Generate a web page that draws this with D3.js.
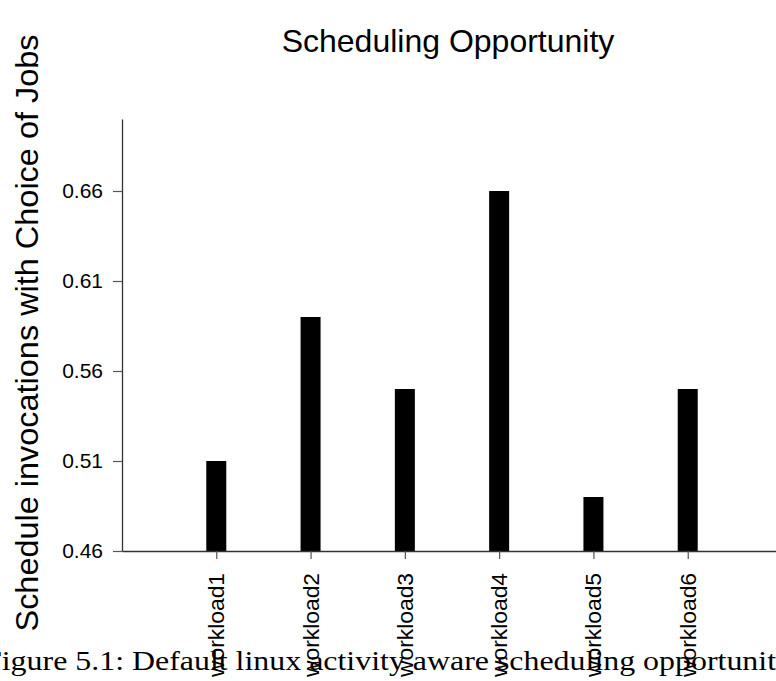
<!DOCTYPE html>
<html>
<head>
<meta charset="utf-8">
<script src="https://cdn.jsdelivr.net/npm/d3@7"></script>
<style>
  body { margin: 0; background: #fff; }
  svg { display: block; }
  text { font-family: "Liberation Sans", Arial, Helvetica, sans-serif; }
</style>
</head>
<body>
<div id="chart"></div>
<script>
// data
const workloads = ['workload1', 'workload2', 'workload3', 'workload4', 'workload5', 'workload6'];
const opportunity = [0.51, 0.59, 0.55, 0.66, 0.49, 0.55];
const yTicks = [0.46, 0.51, 0.56, 0.61, 0.66];

const width = 776;
const height = 681;
const plotLeft = 122, plotRight = 782, plotTop = 119, plotBottom = 551;
const barWidth = 20;

const svg = d3.select('#chart')
    .append('svg')
    .attr('width', width)
    .attr('height', height);

const x = d3.scalePoint()
    .domain(workloads)
    .range([plotLeft, plotRight])
    .padding(1);

const y = d3.scaleLinear()
    .domain([0.46, 0.70])
    .range([plotBottom, plotTop]);

// bars
svg.selectAll('rect.bar')
    .data(workloads)
    .enter()
    .append('rect')
    .attr('class', 'bar')
    .attr('x', d => x(d) - barWidth / 2)
    .attr('width', barWidth)
    .attr('y', (d, i) => y(opportunity[i]))
    .attr('height', (d, i) => y(0.46) - y(opportunity[i]))
    .attr('fill', '#000');

// y axis
const yAxis = svg.append('g')
    .attr('transform', `translate(${plotLeft},0)`)
    .call(d3.axisLeft(y)
        .tickValues(yTicks)
        .tickFormat(d3.format('.2f'))
        .tickSize(9)
        .tickSizeOuter(0)
        .tickPadding(10));

// x axis
const xAxis = svg.append('g')
    .attr('transform', `translate(0,${plotBottom})`)
    .call(d3.axisBottom(x)
        .tickSize(8)
        .tickSizeOuter(0));

xAxis.selectAll('text')
    .attr('transform', 'rotate(-90)')
    .attr('x', -22)
    .attr('y', 0)
    .attr('dy', '0.34em')
    .attr('text-anchor', 'end')
    .attr('textLength', 104)
    .attr('lengthAdjust', 'spacingAndGlyphs')
    .style('font-size', '22px')
    .attr('fill', '#000');

yAxis.selectAll('text')
    .style('font-size', '21px')
    .attr('fill', '#000');

[xAxis, yAxis].forEach(a => {
    a.select('.domain').attr('stroke', '#333').attr('stroke-width', 1.3);
    a.selectAll('.tick line').attr('stroke', '#555').attr('stroke-width', 1.2);
});

// title
svg.append('text')
    .attr('x', 448)
    .attr('y', 52)
    .attr('text-anchor', 'middle')
    .style('font-size', '32px')
    .text('Scheduling Opportunity');

// y label
svg.append('text')
    .attr('transform', 'translate(38,333) rotate(-90)')
    .attr('text-anchor', 'middle')
    .attr('textLength', 597)
    .attr('lengthAdjust', 'spacingAndGlyphs')
    .style('font-size', '32px')
    .text('Schedule invocations with Choice of Jobs');

// caption from the document (cut off on both sides, as in the source)
svg.append('text')
    .attr('x', -16)
    .attr('y', 670)
    .attr('textLength', 808)
    .attr('lengthAdjust', 'spacingAndGlyphs')
    .style('font-family', '"Liberation Serif", "DejaVu Serif", serif')
    .style('font-size', '28px')
    .text('Figure 5.1: Default linux activity aware scheduling opportunity');
</script>
</body>
</html>
